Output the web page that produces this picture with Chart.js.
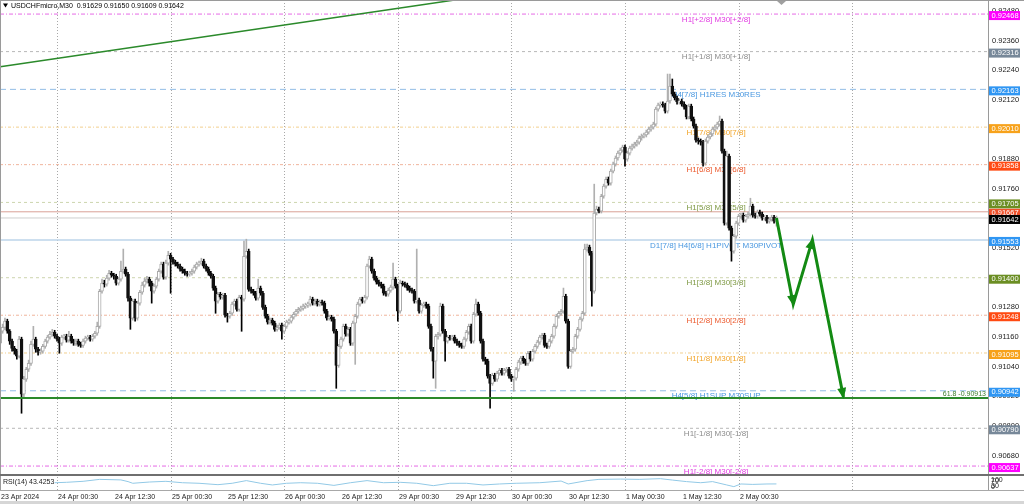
<!DOCTYPE html>
<html>
<head>
<meta charset="utf-8">
<script src="https://cdn.jsdelivr.net/npm/chart.js@4.4.1/dist/chart.umd.min.js"></script>
<style>
  html, body { margin: 0; padding: 0; background: #fff; overflow: hidden; }
  canvas { display: block; }
</style>
</head>
<body>
<canvas id="chart" width="1024" height="504"></canvas>
<script>
// USDCHFmicro M30 — candles + murrey levels + RSI strip
// prices below are in 1e-5 units (pipettes), bar index = M30 bar from 23 Apr 12:30
const SYMBOL = 'USDCHFmicro,M30';
const firstOpen = 91135;
const closes = [
  91183,91199,91224,91183,91143,91114,91102,91082,91151,90928,
  90989,91029,91053,91130,91151,91110,91098,91102,91122,91143,
  91159,91171,91179,91163,91151,91135,91159,91163,91147,91163,
  91143,91135,91143,91130,91126,91143,91155,91159,91151,91163,
  91175,91203,91345,91378,91374,91398,91418,91410,91406,91378,
  91394,91426,91435,91414,91317,91236,91305,91236,91297,91341,
  91370,91386,91394,91378,91345,91366,91394,91426,91455,91402,
  91459,91491,91475,91463,91455,91447,91435,91426,91418,91414,
  91418,91426,91443,91455,91459,91467,91447,91435,91418,91406,
  91358,91305,91333,91321,91329,91248,91244,91256,91293,91305,
  91272,91321,91313,91487,91507,91353,91345,91337,91317,91358,
  91337,91280,91244,91220,91228,91216,91191,91199,91208,91183,
  91203,91220,91224,91240,91252,91264,91272,91276,91285,91289,
  91293,91313,91297,91305,91293,91301,91297,91264,91236,91240,
  91232,91183,91045,91122,91151,91203,91171,91191,91135,91216,
  91244,91293,91313,91305,91321,91447,91475,91426,91398,91382,
  91374,91366,91337,91333,91349,91362,91394,91366,91264,91378,
  91374,91370,91358,91349,91345,91305,91309,91264,91289,91293,
  91285,91203,91110,91062,91163,91171,91285,91183,91143,91159,
  91155,91159,91143,91135,91126,91122,91151,91179,91203,91143,
  91252,91293,91256,91143,91070,91062,91001,90972,91005,90989,
  91013,91025,91013,91025,91029,91001,90989,90993,91029,91058,
  91074,91062,91053,91094,91070,91102,91122,91139,91159,91167,
  91126,91122,91143,91163,91203,91244,91256,91264,91325,91224,
  91041,91102,91110,91163,91191,91232,91256,91516,91524,91499,
  91345,91662,91678,91670,91730,91771,91799,91783,91832,91860,
  91885,91905,91917,91929,91880,91905,91925,91933,91941,91949,
  91966,91974,91978,91990,92002,92010,92022,92083,92099,92103,
  92099,92075,92116,92176,92144,92128,92112,92116,92103,92091,
  92051,92095,92043,92014,91957,91953,91949,91864,91953,91970,
  91982,92002,92010,92022,92035,91913,91621,91893,91601,91507,
  91568,91621,91649,91653,91633,91649,91657,91690,91653,91649,
  91666,91657,91641,91645,91629,91637,91645,91629,91642
];
const highs = [
  91195,91212,91236,91232,91190,91151,91122,91110,91163,91159,
  91000,91037,91066,91143,91203,91159,91118,91112,91130,91151,
  91167,91183,91191,91187,91171,91159,91167,91171,91171,91183,
  91171,91151,91151,91151,91139,91151,91163,91167,91167,91171,
  91183,91220,91353,91394,91390,91410,91430,91426,91418,91414,
  91402,91467,91516,91443,91422,91325,91313,91313,91305,91349,
  91382,91398,91406,91402,91386,91374,91402,91435,91463,91463,
  91471,91507,91499,91483,91471,91463,91455,91443,91435,91426,
  91426,91435,91451,91463,91467,91479,91475,91455,91443,91426,
  91414,91366,91341,91341,91337,91337,91256,91264,91301,91313,
  91313,91329,91329,91548,91556,91516,91362,91353,91345,91394,
  91366,91345,91289,91252,91236,91236,91224,91208,91216,91216,
  91212,91228,91232,91248,91260,91272,91280,91285,91293,91297,
  91301,91325,91321,91313,91313,91309,91309,91305,91272,91248,
  91248,91240,91191,91130,91159,91212,91212,91199,91199,91224,
  91252,91301,91321,91321,91329,91455,91487,91483,91435,91406,
  91390,91382,91374,91345,91358,91370,91459,91402,91374,91390,
  91386,91382,91378,91366,91358,91353,91516,91317,91297,91301,
  91301,91293,91212,91118,91171,91179,91297,91293,91191,91167,
  91167,91167,91167,91151,91143,91135,91159,91187,91212,91212,
  91260,91313,91301,91264,91151,91078,91070,91009,91013,91013,
  91021,91033,91033,91033,91037,91037,91009,91001,91037,91066,
  91082,91082,91070,91102,91102,91110,91130,91147,91167,91175,
  91175,91135,91151,91171,91212,91252,91264,91272,91358,91333,
  91232,91110,91118,91171,91199,91240,91264,91536,91536,91532,
  91507,91779,91690,91686,91738,91779,91808,91808,91840,91868,
  91893,91913,91925,91937,91937,91913,91933,91941,91949,91957,
  91974,91982,91986,91998,92010,92018,92030,92091,92107,92112,
  92112,92107,92225,92225,92205,92152,92136,92124,92124,92112,
  92099,92103,92103,92051,92022,91966,91962,91957,91962,91978,
  91990,92010,92018,92030,92055,92043,91921,91913,91901,91609,
  91576,91629,91657,91662,91662,91657,91666,91722,91698,91662,
  91674,91674,91666,91653,91653,91645,91653,91653,91650
];
const lows = [
  91127,91175,91190,91175,91130,91102,91090,91070,91075,90851,
  90915,90980,91020,91045,91122,91098,91086,91090,91094,91114,
  91135,91151,91163,91155,91143,91094,91126,91151,91139,91139,
  91135,91126,91126,91122,91118,91118,91135,91147,91143,91143,
  91155,91167,91195,91337,91362,91366,91390,91402,91394,91370,
  91370,91386,91418,91406,91305,91191,91228,91224,91228,91289,
  91333,91362,91378,91366,91297,91337,91358,91386,91418,91394,
  91394,91451,91337,91455,91447,91439,91426,91418,91410,91406,
  91406,91410,91418,91435,91447,91451,91439,91426,91410,91398,
  91349,91256,91297,91313,91313,91240,91220,91236,91248,91285,
  91264,91264,91183,91305,91479,91345,91337,91329,91309,91309,
  91329,91272,91236,91212,91212,91208,91183,91183,91191,91151,
  91175,91195,91212,91216,91232,91244,91256,91264,91268,91276,
  91280,91285,91289,91289,91285,91285,91289,91256,91228,91228,
  91224,91175,90952,91037,91114,91143,91163,91163,91126,91126,
  91049,91236,91285,91297,91297,91313,91439,91418,91390,91374,
  91366,91358,91329,91325,91325,91341,91353,91358,91224,91256,
  91366,91362,91349,91341,91337,91297,91297,91256,91256,91280,
  91276,91195,91102,90993,90952,91151,91163,91175,91062,91135,
  91147,91147,91135,91126,91118,91114,91114,91143,91171,91135,
  91135,91244,91248,91135,91062,91049,90993,90871,90964,90980,
  90980,91005,91005,91005,91017,90993,90980,90940,90985,91021,
  91049,91053,91045,91045,91062,91062,91094,91114,91130,91151,
  91118,91114,91114,91135,91155,91195,91236,91248,91256,91216,
  91033,91033,91094,91102,91155,91183,91224,91248,91507,91491,
  91285,91337,91654,91662,91662,91722,91763,91775,91775,91824,
  91852,91876,91897,91909,91852,91872,91897,91917,91925,91933,
  91941,91957,91966,91970,91982,91994,92002,92014,92075,92091,
  92091,92067,92067,92107,92136,92120,92103,92103,92095,92083,
  92043,92043,92035,92006,91949,91941,91937,91852,91856,91945,
  91962,91974,91994,92002,92014,91905,91613,91613,91593,91467,
  91499,91560,91613,91641,91625,91625,91641,91649,91645,91641,
  91641,91649,91633,91633,91621,91621,91629,91621,91609
];

// time axis
const timeBars = [0, 24, 48, 72, 96, 120, 144, 168, 192, 216, 240, 264, 288, 312];
const timeLabels = ['23 Apr 2024', '24 Apr 00:30', '24 Apr 12:30', '25 Apr 00:30', '25 Apr 12:30',
  '26 Apr 00:30', '26 Apr 12:30', '29 Apr 00:30', '29 Apr 12:30', '30 Apr 00:30', '30 Apr 12:30',
  '1 May 00:30', '1 May 12:30', '2 May 00:30'];
const gridBars = [24, 72, 120, 168, 216, 264, 312, 360];

// price axis
const priceTicks = [0.92480, 0.92360, 0.92240, 0.92120, 0.92000, 0.91880, 0.91760, 0.91640,
  0.91520, 0.91400, 0.91280, 0.91160, 0.91040, 0.90920, 0.90800, 0.90680];

// murrey math levels
const levelPrices = [0.92468, 0.92316, 0.92163, 0.92010, 0.91858, 0.91705, 0.91553,
  0.91400, 0.91248, 0.91095, 0.90942, 0.90790, 0.90637];
const levelNames = ['H1[+2/8] M30[+2/8]', 'H1[+1/8] M30[+1/8]', 'H4[7/8] H1RES M30RES',
  'H1[7/8] M30[7/8]', 'H1[6/8] M30[6/8]', 'H1[5/8] M30[5/8]', 'D1[7/8] H4[6/8] H1PIVOT M30PIVOT',
  'H1[3/8] M30[3/8]', 'H1[2/8] M30[2/8]', 'H1[1/8] M30[1/8]', 'H4[5/8] H1SUP M30SUP',
  'H1[-1/8] M30[-1/8]', 'H1[-2/8] M30[-2/8]'];
const levelKinds = ['magenta', 'grey', 'blue', 'orange', 'red', 'olive', 'pivot',
  'olive', 'red', 'orange', 'blue', 'grey', 'magenta'];
const askPrice = 0.91667;

// drawn objects
const trendBars = [0, 192];
const trendPrices = [0.92255, 0.92525];
const fibPrice = 0.90913;
const fibText = '61.8 -0.90913';
const arrowBars = [328, 335.1, 343.2, 356.3];
const arrowPrices = [0.91642, 0.91293, 0.91553, 0.90917];

// RSI(14), read every few bars
const rsiTitle = 'RSI(14) 43.4253';
const rsiBars = [23, 28, 35, 42, 51, 54, 56, 63, 70, 77, 84, 92, 98, 104, 110, 115, 121, 127, 134, 141,
  148, 155, 162, 169, 176, 183, 190, 197, 204, 211, 218, 228, 237, 240, 248, 253, 262, 270, 279,
  284, 290, 296, 301, 307, 310, 313, 318, 324, 328];
const rsiVals = [52, 55, 62, 76, 72, 60, 48, 57, 62, 52, 48, 38, 48, 67, 48, 36, 48, 52, 48, 33,
  52, 67, 52, 55, 48, 31, 48, 48, 36, 43, 48, 52, 64, 43, 67, 76, 78, 76, 81,
  71, 60, 52, 60, 36, 24, 43, 40, 43, 43.4];

// ---- view settings
const FONT = '"Liberation Sans", Arial, sans-serif';
const X_MIN = -0.1, X_MAX = 417.4;
const Y_MAX = 0.92525, Y_MIN = 0.90540;
const RSI_AXIS_MAX = 3500;          // keeps the 0..100 RSI band in the bottom 14px
const LABEL_BAR = 302.5;
const GREEN = '#2b8a2b';
const ARROW_GREEN = '#138a13';

const STYLE = {
  magenta: { line: 'rgba(225,80,225,0.85)', dash: [4, 2, 1, 2], text: '#e23ce2', box: '#ff00ff' },
  grey:    { line: '#b8b8b8', dash: [3, 3], text: '#8c8c8c', box: '#778899' },
  blue:    { line: '#92bde6', dash: [6, 4], text: '#4a98e0', box: '#2f96f3' },
  orange:  { line: '#f2cf8f', dash: [3, 2, 1, 2], text: '#f2a52a', box: '#f7a21b' },
  red:     { line: '#f0b49c', dash: [3, 2, 1, 2], text: '#ec5a2e', box: '#ff4a12' },
  olive:   { line: '#cdd5ae', dash: [3, 3], text: '#7f9a45', box: '#6b8e23' },
  pivot:   { line: '#bcd5ea', dash: [], width: 1.5, text: '#4a98e0', box: '#2f96f3' },
};

const P = v => v / 1e5;
const opens = closes.map((c, i) => (i === 0 ? firstOpen : closes[i - 1]));
const bull = closes.map((c, i) => c >= opens[i]);
const last = closes.length - 1;

function hLine(price, color, width, dash, order) {
  return {
    type: 'line', order,
    data: [{ x: X_MIN, y: price }, { x: X_MAX, y: price }],
    borderColor: color, borderWidth: width, borderDash: dash,
    pointRadius: 0, fill: false,
  };
}

const datasets = [
  ...levelPrices.map((p, i) => {
    const s = STYLE[levelKinds[i]];
    return hLine(p, s.line, s.width || 1, s.dash, 10);
  }),
  hLine(askPrice, '#d9a196', 1, [], 10),
  hLine(P(closes[last]), '#cfcfcf', 1, [], 10),
  {
    type: 'bar', order: 3, grouped: false, barThickness: 1,
    data: closes.map((c, i) => ({ x: i, y: [P(lows[i]), P(highs[i])] })),
    backgroundColor: bull.map(b => (b ? '#b0b0b0' : '#000')),
  },
  {
    type: 'bar', order: 2, grouped: false, barThickness: 3, minBarLength: 1,
    data: closes.map((c, i) => ({ x: i, y: [P(opens[i]), P(c)] })),
    backgroundColor: bull.map(b => (b ? '#ffffff' : '#111')),
    borderColor: bull.map(b => (b ? '#aaaaaa' : '#111')),
    borderWidth: 1, borderSkipped: false,
  },
  hLine(fibPrice, GREEN, 2, [], 1),
  {
    type: 'line', order: 1,
    data: trendBars.map((b, i) => ({ x: b, y: trendPrices[i] })),
    borderColor: GREEN, borderWidth: 1.5, pointRadius: 0, fill: false,
  },
  {
    type: 'line', order: 0,
    data: arrowBars.map((b, i) => ({ x: b, y: arrowPrices[i] })),
    borderColor: ARROW_GREEN, borderWidth: 3, pointRadius: 0, fill: false,
  },
  {
    type: 'line', order: 1, yAxisID: 'yr',
    data: rsiBars.map((b, i) => ({ x: b, y: rsiVals[i] })),
    borderColor: '#92c9e6', borderWidth: 1, pointRadius: 0, fill: false,
  },
];

const overlay = {
  id: 'overlay',
  beforeDatasetsDraw(chart) {
    const { ctx, chartArea: a, scales: { x, y } } = chart;
    ctx.save();
    // dotted day grid
    ctx.strokeStyle = '#a8a8a8';
    ctx.lineWidth = 1;
    ctx.setLineDash([1, 2]);
    gridBars.forEach(b => {
      const px = Math.round(x.getPixelForValue(b)) + 0.5;
      ctx.beginPath();
      ctx.moveTo(px, a.top);
      ctx.lineTo(px, a.bottom);
      ctx.stroke();
    });
    ctx.setLineDash([]);
    // level names sit just under their line
    ctx.font = `8px ${FONT}`;
    ctx.textAlign = 'center';
    ctx.textBaseline = 'middle';
    const cx = x.getPixelForValue(LABEL_BAR);
    levelPrices.forEach((p, i) => {
      ctx.fillStyle = STYLE[levelKinds[i]].text;
      ctx.fillText(levelNames[i], cx, y.getPixelForValue(p) + 5.5);
    });
    ctx.restore();
  },
  afterDatasetsDraw(chart) {
    const { ctx, scales: { x, y } } = chart;
    ctx.save();
    ctx.fillStyle = ARROW_GREEN;
    for (let i = 1; i < arrowBars.length; i++) {
      const x0 = x.getPixelForValue(arrowBars[i - 1]), y0 = y.getPixelForValue(arrowPrices[i - 1]);
      const x1 = x.getPixelForValue(arrowBars[i]), y1 = y.getPixelForValue(arrowPrices[i]);
      const ang = Math.atan2(y1 - y0, x1 - x0);
      const c = Math.cos(ang), s = Math.sin(ang);
      ctx.beginPath();
      ctx.moveTo(x1 + 2 * c, y1 + 2 * s);
      ctx.lineTo(x1 - 9 * c + 4.5 * s, y1 - 9 * s - 4.5 * c);
      ctx.lineTo(x1 - 9 * c - 4.5 * s, y1 - 9 * s + 4.5 * c);
      ctx.closePath();
      ctx.fill();
    }
    ctx.restore();
  },
  afterDraw(chart) {
    const { ctx, chartArea: a, scales: { x, y, yr } } = chart;
    const W = chart.width, H = chart.height;
    const rsiTop = yr.getPixelForValue(100);
    ctx.save();

    // frame and pane separators
    ctx.fillStyle = '#9a9a9a';
    ctx.fillRect(0, 0, W, 1);
    ctx.fillRect(0, 0, 1, a.bottom);
    ctx.fillRect(a.right, 0, 1, a.bottom);
    ctx.fillStyle = '#6f6f6f';
    ctx.fillRect(0, rsiTop - 2, W, 2);
    ctx.fillStyle = '#a8a8a8';
    ctx.fillRect(0, a.bottom, W, 1);
    ctx.fillStyle = '#d6d6d6';
    ctx.fillRect(0, H - 3, W, 3);

    // time labels, left edge on their bar
    ctx.font = `7px ${FONT}`;
    ctx.fillStyle = '#222';
    ctx.textAlign = 'left';
    ctx.textBaseline = 'middle';
    timeBars.forEach((b, i) => {
      ctx.fillText(timeLabels[i], Math.round(x.getPixelForValue(b)) + 1, a.bottom + 7);
    });

    // chart shift marker
    ctx.fillStyle = '#a0a0a0';
    ctx.beginPath();
    ctx.moveTo(777, 1); ctx.lineTo(786, 1); ctx.lineTo(781.5, 5);
    ctx.fill();

    // title
    ctx.fillStyle = '#000';
    ctx.beginPath();
    ctx.moveTo(3, 3.5); ctx.lineTo(8, 3.5); ctx.lineTo(5.5, 7.5);
    ctx.fill();
    const ohlc = [opens[last], highs[last], lows[last], closes[last]].map(v => P(v).toFixed(5)).join(' ');
    ctx.fillText(`${SYMBOL}  ${ohlc}`, 11, 6.5);

    // fibo label
    ctx.fillStyle = '#3b7d2b';
    ctx.textAlign = 'right';
    ctx.fillText(fibText, a.right - 2, y.getPixelForValue(fibPrice) - 3.5);

    // RSI pane texts
    ctx.fillStyle = '#222';
    ctx.textAlign = 'left';
    ctx.fillText(rsiTitle, 3, rsiTop + 6);
    ctx.fillText('100', a.right + 3, rsiTop + 4.5);
    ctx.fillText('70', a.right + 3, rsiTop + 5.5);
    ctx.fillText('30', a.right + 3, rsiTop + 10.5);
    ctx.fillText('0', a.right + 3, rsiTop + 11.5);

    // price boxes on the axis
    ctx.font = `7.5px ${FONT}`;
    const box = (p, color) => {
      const py = y.getPixelForValue(p);
      ctx.fillStyle = color;
      ctx.fillRect(a.right + 1, py - 3, 31, 9);
      ctx.fillStyle = '#fff';
      ctx.fillText(p.toFixed(5), a.right + 3.5, py + 1.5);
    };
    levelPrices.forEach((p, i) => box(p, STYLE[levelKinds[i]].box));
    box(askPrice, '#f0502a');
    box(P(closes[last]), '#000');
    ctx.restore();
  },
};

Chart.defaults.font.family = FONT;

new Chart(document.getElementById('chart'), {
  type: 'bar',
  data: { datasets },
  options: {
    responsive: false,
    animation: false,
    devicePixelRatio: 1,
    events: [],
    layout: { padding: 0 },
    plugins: { legend: { display: false }, tooltip: { enabled: false } },
    scales: {
      x: {
        type: 'linear', min: X_MIN, max: X_MAX, offset: false,
        grid: { display: false }, border: { display: false },
        ticks: { display: false },
        afterFit: s => { s.height = 14; s.paddingLeft = 0; s.paddingRight = 0; },
      },
      y: {
        position: 'right', min: Y_MIN, max: Y_MAX, beginAtZero: false,
        grid: { display: false, drawTicks: false }, border: { display: false },
        afterBuildTicks: s => { s.ticks = priceTicks.map(v => ({ value: v })); },
        afterFit: s => { s.width = 36; s.paddingTop = 0; s.paddingBottom = 0; },
        ticks: { autoSkip: false, padding: 4, color: '#222', font: { size: 7.5 }, callback: v => v.toFixed(5) },
      },
      yr: { display: false, min: 0, max: RSI_AXIS_MAX },
    },
  },
  plugins: [overlay],
});
</script>
</body>
</html>
